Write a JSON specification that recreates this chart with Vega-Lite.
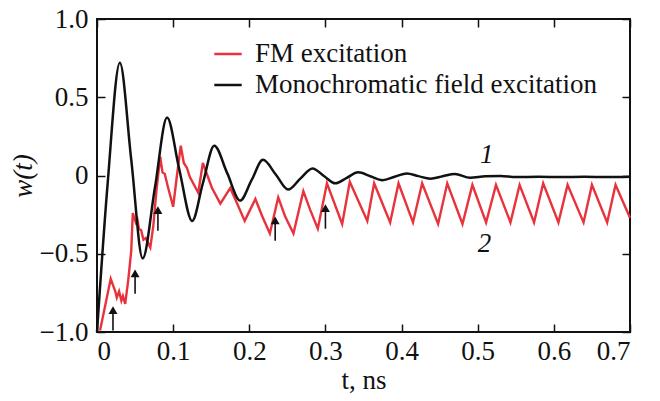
{
 "$schema": "https://vega.github.io/schema/vega-lite/v6.json",
 "width": 533,
 "height": 313,
 "autosize": {"type": "none"},
 "padding": {"left": 97, "top": 19, "right": 30, "bottom": 69},
 "background": "white",
 "config": {
  "font": "Liberation Serif",
  "view": {"stroke": "#111111", "strokeWidth": 2},
  "axis": {
   "domain": false, "grid": false, "ticks": true, "tickSize": -8, "tickWidth": 1.5, "tickColor": "#111111",
   "labelFont": "Liberation Serif", "labelFontSize": 27, "labelColor": "#111111",
   "titleFont": "Liberation Serif", "titleFontSize": 27, "titleFontWeight": "normal", "titleColor": "#111111"
  }
 },
 "datasets": {
  "curves": [
   {"series": "FM excitation", "t": 0.004, "w": -0.99},
   {"series": "FM excitation", "t": 0.018, "w": -0.66},
   {"series": "FM excitation", "t": 0.024, "w": -0.74},
   {"series": "FM excitation", "t": 0.026, "w": -0.78},
   {"series": "FM excitation", "t": 0.029, "w": -0.74},
   {"series": "FM excitation", "t": 0.032, "w": -0.80},
   {"series": "FM excitation", "t": 0.034, "w": -0.77},
   {"series": "FM excitation", "t": 0.037, "w": -0.82},
   {"series": "FM excitation", "t": 0.041, "w": -0.67},
   {"series": "FM excitation", "t": 0.045, "w": -0.48},
   {"series": "FM excitation", "t": 0.047, "w": -0.24},
   {"series": "FM excitation", "t": 0.051, "w": -0.30},
   {"series": "FM excitation", "t": 0.053, "w": -0.28},
   {"series": "FM excitation", "t": 0.055, "w": -0.34},
   {"series": "FM excitation", "t": 0.058, "w": -0.35},
   {"series": "FM excitation", "t": 0.061, "w": -0.41},
   {"series": "FM excitation", "t": 0.064, "w": -0.40},
   {"series": "FM excitation", "t": 0.070, "w": -0.46},
   {"series": "FM excitation", "t": 0.074, "w": -0.32},
   {"series": "FM excitation", "t": 0.078, "w": -0.10},
   {"series": "FM excitation", "t": 0.083, "w": 0.12},
   {"series": "FM excitation", "t": 0.086, "w": 0.02},
   {"series": "FM excitation", "t": 0.089, "w": 0.01},
   {"series": "FM excitation", "t": 0.093, "w": -0.07},
   {"series": "FM excitation", "t": 0.100, "w": -0.20},
   {"series": "FM excitation", "t": 0.105, "w": 0.0},
   {"series": "FM excitation", "t": 0.110, "w": 0.19},
   {"series": "FM excitation", "t": 0.114, "w": 0.08},
   {"series": "FM excitation", "t": 0.118, "w": 0.05},
   {"series": "FM excitation", "t": 0.122, "w": -0.01},
   {"series": "FM excitation", "t": 0.133, "w": -0.11},
   {"series": "FM excitation", "t": 0.139, "w": 0.08},
   {"series": "FM excitation", "t": 0.151, "w": -0.08},
   {"series": "FM excitation", "t": 0.162, "w": -0.18},
   {"series": "FM excitation", "t": 0.175, "w": -0.08},
   {"series": "FM excitation", "t": 0.185, "w": -0.19},
   {"series": "FM excitation", "t": 0.194, "w": -0.29},
   {"series": "FM excitation", "t": 0.208, "w": -0.15},
   {"series": "FM excitation", "t": 0.217, "w": -0.26},
   {"series": "FM excitation", "t": 0.227, "w": -0.37},
   {"series": "FM excitation", "t": 0.238, "w": -0.14},
   {"series": "FM excitation", "t": 0.247, "w": -0.26},
   {"series": "FM excitation", "t": 0.258, "w": -0.37},
   {"series": "FM excitation", "t": 0.271, "w": -0.10},
   {"series": "FM excitation", "t": 0.280, "w": -0.22},
   {"series": "FM excitation", "t": 0.290, "w": -0.34},
   {"series": "FM excitation", "t": 0.302, "w": -0.05},
   {"series": "FM excitation", "t": 0.322, "w": -0.31},
   {"series": "FM excitation", "t": 0.332, "w": -0.04},
   {"series": "FM excitation", "t": 0.355, "w": -0.29},
   {"series": "FM excitation", "t": 0.364, "w": -0.05},
   {"series": "FM excitation", "t": 0.385, "w": -0.30},
   {"series": "FM excitation", "t": 0.396, "w": -0.05},
   {"series": "FM excitation", "t": 0.415, "w": -0.30},
   {"series": "FM excitation", "t": 0.427, "w": -0.05},
   {"series": "FM excitation", "t": 0.448, "w": -0.31},
   {"series": "FM excitation", "t": 0.460, "w": -0.05},
   {"series": "FM excitation", "t": 0.480, "w": -0.31},
   {"series": "FM excitation", "t": 0.493, "w": -0.06},
   {"series": "FM excitation", "t": 0.511, "w": -0.30},
   {"series": "FM excitation", "t": 0.524, "w": -0.06},
   {"series": "FM excitation", "t": 0.543, "w": -0.30},
   {"series": "FM excitation", "t": 0.555, "w": -0.06},
   {"series": "FM excitation", "t": 0.574, "w": -0.30},
   {"series": "FM excitation", "t": 0.586, "w": -0.05},
   {"series": "FM excitation", "t": 0.606, "w": -0.30},
   {"series": "FM excitation", "t": 0.618, "w": -0.06},
   {"series": "FM excitation", "t": 0.639, "w": -0.30},
   {"series": "FM excitation", "t": 0.650, "w": -0.06},
   {"series": "FM excitation", "t": 0.670, "w": -0.30},
   {"series": "FM excitation", "t": 0.681, "w": -0.06},
   {"series": "FM excitation", "t": 0.700, "w": -0.27},
   {"series": "Monochromatic field excitation", "t": 0.000, "w": -1.0},
   {"series": "Monochromatic field excitation", "t": 0.014, "w": -0.05},
   {"series": "Monochromatic field excitation", "t": 0.030, "w": 0.72},
   {"series": "Monochromatic field excitation", "t": 0.045, "w": 0.10},
   {"series": "Monochromatic field excitation", "t": 0.060, "w": -0.53},
   {"series": "Monochromatic field excitation", "t": 0.076, "w": -0.08},
   {"series": "Monochromatic field excitation", "t": 0.092, "w": 0.37},
   {"series": "Monochromatic field excitation", "t": 0.108, "w": 0.04},
   {"series": "Monochromatic field excitation", "t": 0.125, "w": -0.29},
   {"series": "Monochromatic field excitation", "t": 0.139, "w": -0.05},
   {"series": "Monochromatic field excitation", "t": 0.154, "w": 0.19},
   {"series": "Monochromatic field excitation", "t": 0.171, "w": 0.015},
   {"series": "Monochromatic field excitation", "t": 0.188, "w": -0.16},
   {"series": "Monochromatic field excitation", "t": 0.203, "w": -0.03},
   {"series": "Monochromatic field excitation", "t": 0.218, "w": 0.10},
   {"series": "Monochromatic field excitation", "t": 0.235, "w": 0.005},
   {"series": "Monochromatic field excitation", "t": 0.251, "w": -0.09},
   {"series": "Monochromatic field excitation", "t": 0.267, "w": -0.02},
   {"series": "Monochromatic field excitation", "t": 0.283, "w": 0.045},
   {"series": "Monochromatic field excitation", "t": 0.298, "w": -0.003},
   {"series": "Monochromatic field excitation", "t": 0.313, "w": -0.05},
   {"series": "Monochromatic field excitation", "t": 0.328, "w": -0.015},
   {"series": "Monochromatic field excitation", "t": 0.343, "w": 0.02},
   {"series": "Monochromatic field excitation", "t": 0.359, "w": -0.005},
   {"series": "Monochromatic field excitation", "t": 0.375, "w": -0.03},
   {"series": "Monochromatic field excitation", "t": 0.391, "w": -0.008},
   {"series": "Monochromatic field excitation", "t": 0.407, "w": 0.013},
   {"series": "Monochromatic field excitation", "t": 0.422, "w": -0.004},
   {"series": "Monochromatic field excitation", "t": 0.438, "w": -0.02},
   {"series": "Monochromatic field excitation", "t": 0.454, "w": -0.005},
   {"series": "Monochromatic field excitation", "t": 0.470, "w": 0.01},
   {"series": "Monochromatic field excitation", "t": 0.490, "w": -0.015},
   {"series": "Monochromatic field excitation", "t": 0.510, "w": -0.005},
   {"series": "Monochromatic field excitation", "t": 0.530, "w": -0.003},
   {"series": "Monochromatic field excitation", "t": 0.550, "w": -0.01},
   {"series": "Monochromatic field excitation", "t": 0.580, "w": -0.008},
   {"series": "Monochromatic field excitation", "t": 0.610, "w": -0.01},
   {"series": "Monochromatic field excitation", "t": 0.640, "w": -0.008},
   {"series": "Monochromatic field excitation", "t": 0.670, "w": -0.01},
   {"series": "Monochromatic field excitation", "t": 0.700, "w": -0.008}
  ],
  "arrows": [
   {"t": 0.021, "bottom": -0.99, "head": -0.86},
   {"t": 0.050, "bottom": -0.756, "head": -0.625},
   {"t": 0.080, "bottom": -0.353, "head": -0.222},
   {"t": 0.234, "bottom": -0.417, "head": -0.286},
   {"t": 0.300, "bottom": -0.340, "head": -0.209}
  ],
  "labels": [
   {"t": 0.512, "w": 0.13, "label": "1"},
   {"t": 0.509, "w": -0.44, "label": "2"}
  ]
 },
 "layer": [
  {
   "data": {"name": "curves"},
   "transform": [{"filter": "datum.series == 'FM excitation'"}],
   "mark": {"type": "line", "strokeWidth": 2.4, "interpolate": "linear"},
   "encoding": {
    "x": {"field": "t", "type": "quantitative", "scale": {"domain": [0, 0.7]},
          "axis": {"orient": "bottom", "values": [0, 0.1, 0.2, 0.3, 0.4, 0.5, 0.6, 0.7], "labelExpr": "datum.value == 0 ? '0' : format(datum.value, '.1f')", "title": "t, ns", "labelPadding": 14, "titlePadding": 3}},
    "y": {"field": "w", "type": "quantitative", "scale": {"domain": [-1, 1]},
          "axis": {"orient": "left", "values": [-1, -0.5, 0, 0.5, 1], "labelExpr": "datum.value == 0 ? '0' : format(datum.value, '.1f')", "title": "w(t)", "titleFontStyle": "italic", "labelPadding": 17, "titlePadding": 2}},
    "color": {"field": "series", "type": "nominal",
              "scale": {"domain": ["FM excitation", "Monochromatic field excitation"], "range": ["#e8323c", "#111111"]},
              "legend": {"orient": "none", "legendX": 116, "legendY": 20, "title": null, "symbolType": "stroke", "symbolSize": 750, "symbolStrokeWidth": 2.5, "labelFont": "Liberation Serif", "labelFontSize": 27, "labelColor": "#111111", "labelLimit": 600, "rowPadding": 3, "labelOffset": 12, "padding": 0}}
   }
  },
  {
   "data": {"name": "curves"},
   "transform": [{"filter": "datum.series != 'FM excitation'"}],
   "mark": {"type": "line", "strokeWidth": 2.5, "interpolate": "monotone"},
   "encoding": {
    "x": {"field": "t", "type": "quantitative", "scale": {"domain": [0, 0.7]},
          "axis": {"orient": "top", "values": [0, 0.1, 0.2, 0.3, 0.4, 0.5, 0.6, 0.7], "labels": false, "title": null}},
    "y": {"field": "w", "type": "quantitative", "scale": {"domain": [-1, 1]},
          "axis": {"orient": "right", "values": [-1, -0.5, 0, 0.5, 1], "labels": false, "title": null}},
    "color": {"field": "series", "type": "nominal"}
   }
  },
  {
   "data": {"name": "arrows"},
   "mark": {"type": "rule", "strokeWidth": 1.6, "color": "#111111"},
   "encoding": {
    "x": {"field": "t", "type": "quantitative", "axis": null},
    "y": {"field": "bottom", "type": "quantitative", "axis": null},
    "y2": {"field": "head"}
   }
  },
  {
   "data": {"name": "arrows"},
   "mark": {"type": "point", "shape": "triangle-up", "filled": true, "size": 80, "color": "#111111", "opacity": 1},
   "encoding": {
    "x": {"field": "t", "type": "quantitative", "axis": null},
    "y": {"field": "head", "type": "quantitative", "axis": null}
   }
  },
  {
   "data": {"name": "labels"},
   "mark": {"type": "text", "font": "Liberation Serif", "fontSize": 27, "fontStyle": "italic", "color": "#111111", "align": "center", "baseline": "middle"},
   "encoding": {
    "x": {"field": "t", "type": "quantitative", "axis": null},
    "y": {"field": "w", "type": "quantitative", "axis": null},
    "text": {"field": "label"}
   }
  }
 ],
 "resolve": {"axis": {"x": "independent", "y": "independent"}}
}
